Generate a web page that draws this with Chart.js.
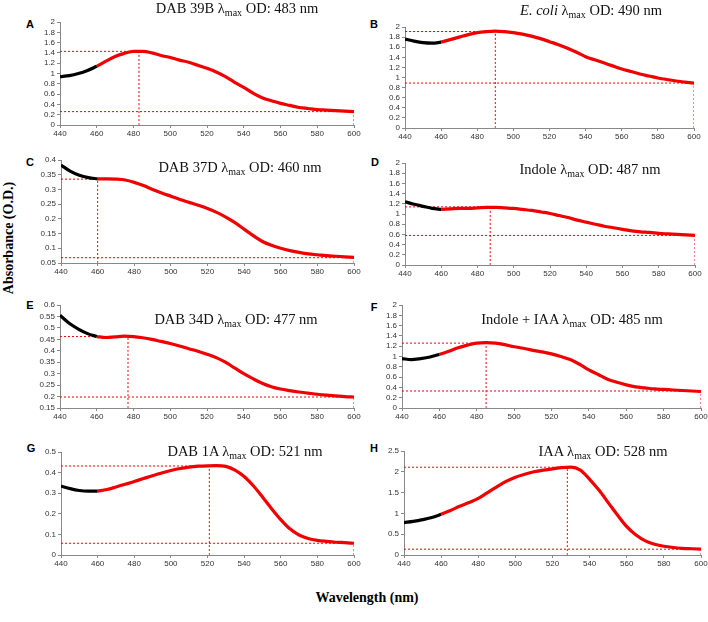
<!DOCTYPE html>
<html lang="en">
<head>
<meta charset="UTF-8">
<title>Absorbance spectra</title>
<script src="https://cdn.jsdelivr.net/npm/chart.js"></script>
<style>
    body { margin: 0; background: #fff; }
    #fig { position: relative; width: 708px; height: 622px; overflow: hidden; }
    #fig canvas { position: absolute; }
    .ttl { position: absolute; font-family: "Liberation Serif", "Times New Roman", serif; font-size: 14.5px; color: #111; white-space: nowrap; transform: translate(-50%, -50%); z-index: 2; }
    .ttl sub { font-size: 10px; vertical-align: -3px; line-height: 0; }
    .let { position: absolute; font-family: "Liberation Sans", Arial, sans-serif; font-weight: bold; font-size: 11px; color: #000; transform: translate(-50%, -50%); }
    .axt { position: absolute; font-family: "Liberation Serif", "Times New Roman", serif; font-weight: bold; font-size: 14px; color: #000; white-space: nowrap; transform: translate(-50%, -50%); }
</style>
</head>
<body>
<div id="fig">
    <div class="ttl" style="left:237px;top:8px">DAB 39B &lambda;<sub>max</sub> OD: 483 nm</div>
    <div class="ttl" style="left:591px;top:10px"><i>E. coli</i> &lambda;<sub>max</sub> OD: 490 nm</div>
    <div class="ttl" style="left:240px;top:167px">DAB 37D &lambda;<sub>max</sub> OD: 460 nm</div>
    <div class="ttl" style="left:590px;top:169px">Indole &lambda;<sub>max</sub> OD: 487 nm</div>
    <div class="ttl" style="left:236px;top:319px">DAB 34D &lambda;<sub>max</sub> OD: 477 nm</div>
    <div class="ttl" style="left:572px;top:319px">Indole + IAA &lambda;<sub>max</sub> OD: 485 nm</div>
    <div class="ttl" style="left:245px;top:451px">DAB 1A &lambda;<sub>max</sub> OD: 521 nm</div>
    <div class="ttl" style="left:603px;top:451px">IAA &lambda;<sub>max</sub> OD: 528 nm</div>

    <div class="let" style="left:30px;top:24px">A</div>
    <div class="let" style="left:374px;top:24px">B</div>
    <div class="let" style="left:30px;top:162px">C</div>
    <div class="let" style="left:375px;top:162px">D</div>
    <div class="let" style="left:30px;top:305px">E</div>
    <div class="let" style="left:374px;top:307px">F</div>
    <div class="let" style="left:31px;top:448px">G</div>
    <div class="let" style="left:374px;top:448px">H</div>

    <div class="axt" style="left:9px;top:238px;transform:translate(-50%,-50%) rotate(-90deg)">Absorbance (O.D.)</div>
    <div class="axt" style="left:367px;top:598px">Wavelength (nm)</div>
</div>
<script>
// wavelength grid (nm)
const wavelength = [440, 445, 450, 455, 460, 465, 470, 475, 480, 485, 490, 495, 500, 505, 510, 515, 520,
                    525, 530, 535, 540, 545, 550, 555, 560, 565, 570, 575, 580, 585, 590, 595, 600];

// absorbance
const dab39b = [0.94, 0.96, 1.00, 1.06, 1.14, 1.24, 1.33, 1.39, 1.43, 1.43, 1.40, 1.35, 1.31, 1.26, 1.22, 1.16, 1.10,
                1.03, 0.94, 0.83, 0.73, 0.62, 0.53, 0.47, 0.42, 0.38, 0.34, 0.32, 0.30, 0.29, 0.28, 0.27, 0.26];
const ecoli = [1.76, 1.72, 1.69, 1.68, 1.70, 1.75, 1.80, 1.85, 1.89, 1.91, 1.92, 1.91, 1.89, 1.86, 1.82, 1.77, 1.71,
               1.65, 1.58, 1.50, 1.41, 1.35, 1.29, 1.23, 1.17, 1.12, 1.07, 1.03, 0.99, 0.96, 0.93, 0.91, 0.89];
const dab37d = [0.383, 0.362, 0.348, 0.340, 0.336, 0.336, 0.335, 0.332, 0.324, 0.313, 0.300, 0.288, 0.277, 0.266, 0.256, 0.246, 0.235,
                0.222, 0.206, 0.187, 0.165, 0.143, 0.123, 0.110, 0.100, 0.092, 0.086, 0.081, 0.078, 0.075, 0.073, 0.071, 0.069];
const indole = [1.24, 1.19, 1.15, 1.11, 1.09, 1.10, 1.11, 1.11, 1.12, 1.13, 1.13, 1.12, 1.11, 1.09, 1.07, 1.04, 1.01,
                0.97, 0.93, 0.88, 0.84, 0.80, 0.76, 0.73, 0.70, 0.67, 0.65, 0.64, 0.62, 0.61, 0.60, 0.59, 0.58];
const dab34d = [0.555, 0.520, 0.495, 0.475, 0.462, 0.458, 0.461, 0.464, 0.462, 0.457, 0.450, 0.441, 0.432, 0.421, 0.409, 0.398, 0.385,
                0.370, 0.350, 0.325, 0.300, 0.278, 0.258, 0.243, 0.233, 0.226, 0.220, 0.215, 0.210, 0.206, 0.203, 0.200, 0.198];
const indoleIaa = [0.96, 0.94, 0.96, 0.99, 1.04, 1.10, 1.17, 1.22, 1.26, 1.27, 1.26, 1.23, 1.19, 1.16, 1.12, 1.09, 1.05,
                   1.00, 0.94, 0.85, 0.74, 0.65, 0.56, 0.50, 0.45, 0.41, 0.39, 0.37, 0.36, 0.35, 0.34, 0.33, 0.32];
const dab1a = [0.335, 0.322, 0.313, 0.310, 0.310, 0.318, 0.330, 0.343, 0.357, 0.371, 0.385, 0.398, 0.410, 0.420, 0.427, 0.431, 0.433,
               0.434, 0.430, 0.412, 0.381, 0.336, 0.282, 0.225, 0.172, 0.127, 0.097, 0.080, 0.071, 0.066, 0.062, 0.060, 0.057];
const iaa = [0.78, 0.81, 0.85, 0.90, 0.98, 1.07, 1.17, 1.26, 1.36, 1.50, 1.64, 1.77, 1.87, 1.94, 2.00, 2.04, 2.07,
             2.10, 2.11, 2.04, 1.82, 1.56, 1.26, 0.96, 0.68, 0.48, 0.34, 0.26, 0.21, 0.18, 0.16, 0.15, 0.14];

const spectra = [dab39b, ecoli, dab37d, indole, dab34d, indoleIaa, dab1a, iaa];

// lambda max marks
const lambdaMax = [483, 490, 460, 487, 477, 485, 521, 528];
const peakOD = [1.43, 1.91, 0.335, 1.14, 0.462, 1.26, 0.432, 2.11];
const endOD = [0.26, 0.89, 0.068, 0.58, 0.198, 0.33, 0.057, 0.14];

// y axis ranges
const yMin = [0, 0, 0.05, 0, 0.15, 0, 0, 0];
const yMax = [2, 2, 0.4, 2, 0.6, 2, 0.5, 2.5];
const yStep = [0.2, 0.2, 0.05, 0.2, 0.05, 0.2, 0.1, 0.5];

// plot area of each panel on the page: left, right, top, bottom
const boxes = [
    [60, 354, 22, 125], [405, 694, 27, 128],
    [61, 354, 160, 263], [405, 695, 163, 265],
    [60, 354, 305, 408], [402, 701, 305, 408],
    [61, 354, 452, 555], [404, 701, 451, 555]
];

const YW = 30, PT = 6, PR = 8, XH = 16;
const tickFont = { family: "'Liberation Sans Narrow', 'Liberation Sans', Arial, sans-serif", size: 8 };
const red = 'rgb(240,0,0)';

function pts(vals, from, to)
{
    return wavelength.slice(from, to).map((x, j) => ({ x: x, y: vals[from + j] }));
}

function dashed(data)
{
    return { data: data, borderColor: red, borderWidth: 1, borderDash: [2, 2], tension: 0, pointRadius: 0 };
}

function makeChart(i)
{
    const box = boxes[i];
    const vals = spectra[i];
    const cv = document.createElement('canvas');
    cv.width = box[1] - box[0] + YW + PR;
    cv.height = box[3] - box[2] + PT + XH;
    cv.style.left = (box[0] - YW) + 'px';
    cv.style.top = (box[2] - PT) + 'px';
    document.getElementById('fig').appendChild(cv);

    new Chart(cv,
    {
        type: 'line',
        data:
        {
            datasets:
            [
                { data: pts(vals, 0, 5), borderColor: '#000', borderWidth: 3.2 },
                { data: pts(vals, 4, wavelength.length), borderColor: red, borderWidth: 3.2 },
                dashed([{ x: 440, y: peakOD[i] }, { x: lambdaMax[i], y: peakOD[i] }]),
                dashed([{ x: lambdaMax[i], y: yMin[i] }, { x: lambdaMax[i], y: peakOD[i] }]),
                dashed([{ x: 440, y: endOD[i] }, { x: 600, y: endOD[i] }]),
                dashed([{ x: 600, y: yMin[i] }, { x: 600, y: endOD[i] }])
            ]
        },
        options:
        {
            responsive: false,
            animation: false,
            events: [],
            layout: { padding: { top: PT, right: PR, left: 0, bottom: 0 } },
            plugins: { legend: { display: false }, tooltip: { enabled: false } },
            elements: { point: { radius: 0 }, line: { cubicInterpolationMode: 'monotone', capBezierPoints: true } },
            scales:
            {
                x:
                {
                    type: 'linear', min: 440, max: 600,
                    ticks: { stepSize: 20, autoSkip: false, font: tickFont, color: '#333', padding: 1, maxRotation: 0 },
                    grid: { drawOnChartArea: false, tickLength: 3, color: '#888' },
                    border: { color: '#888' },
                    afterFit: s => { s.height = XH; s.paddingLeft = 0; s.paddingRight = 0; }
                },
                y:
                {
                    min: yMin[i], max: yMax[i],
                    ticks: { stepSize: yStep[i], autoSkip: false, font: tickFont, color: '#333', padding: 2, callback: v => +v.toFixed(2) },
                    grid: { drawOnChartArea: false, tickLength: 3, color: '#888' },
                    border: { color: '#888' },
                    afterFit: s => { s.width = YW; s.paddingTop = 0; s.paddingBottom = 0; }
                }
            }
        }
    });
}

window.onload = function()
{
    for (let i = 0; i < spectra.length; i++)
        makeChart(i);
}
</script>
</body>
</html>
